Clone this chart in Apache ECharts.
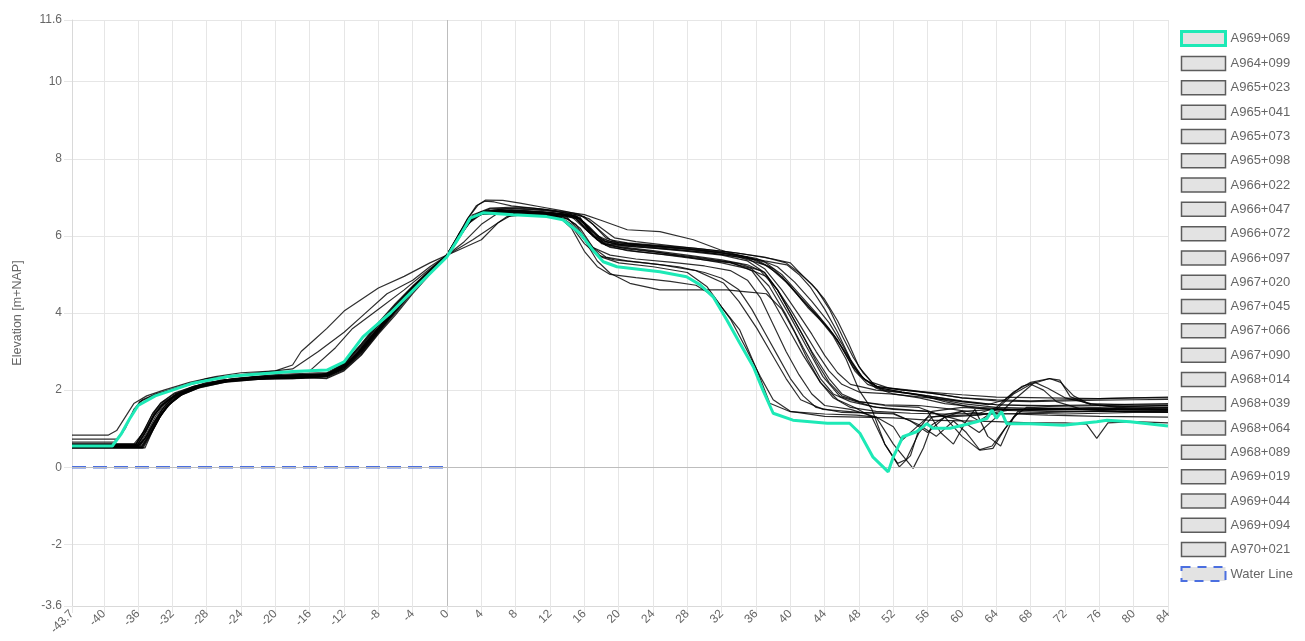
<!DOCTYPE html>
<html>
<head>
<meta charset="utf-8">
<title>Dike cross-section profiles</title>
<script src="https://cdn.jsdelivr.net/npm/echarts@6/dist/echarts.min.js"></script>
<style>
  html, body { margin: 0; padding: 0; background: #fff; }
  #chart { width: 1305px; height: 641px; }
</style>
</head>
<body>
<div id="chart"></div>
<script>
// Axis ranges and tick labels
const xMin = -43.7, xMax = 84;
const yMin = -3.6, yMax = 11.6;
const xTicks = [-43.7, -40, -36, -32, -28, -24, -20, -16, -12, -8, -4, 0, 4, 8, 12, 16, 20, 24, 28, 32, 36, 40, 44, 48, 52, 56, 60, 64, 68, 72, 76, 80, 84];
const yTicks = [-3.6, -2, 0, 2, 4, 6, 8, 10, 11.6];

// Highlighted profile
const A969_069 = [[-43.7,0.55],[-39,0.55],[-38,0.85],[-37,1.25],[-36,1.6],[-34,1.85],[-32,2.0],[-29.6,2.18],[-25.6,2.35],[-22,2.42],[-18,2.48],[-14,2.52],[-12,2.73],[-9.8,3.38],[-6.6,4.0],[-3.1,4.78],[0,5.46],[1.5,6.0],[2.7,6.46],[4.2,6.6],[7.7,6.55],[11.6,6.5],[13.5,6.42],[15.5,6.07],[17.1,5.6],[18.2,5.33],[19.8,5.2],[24.8,5.07],[27.9,4.94],[29.5,4.73],[31,4.42],[32.6,3.82],[34.1,3.22],[35.7,2.6],[36.8,2.0],[38,1.4],[40.3,1.22],[44.3,1.14],[46.9,1.14],[48.1,0.88],[49.6,0.27],[51.4,-0.12],[52,0.27],[53.1,0.79],[54.7,0.92],[55.9,1.13],[56.6,1.01],[58.6,1.01],[60.1,1.09],[61.7,1.18],[62.9,1.26],[63.5,1.48],[64,1.27],[64.6,1.44],[65.2,1.13],[67.9,1.13],[71.8,1.09],[75.7,1.18],[76.9,1.22],[79.6,1.18],[84,1.07]];

// Other profiles
const A964_099 = [[-43.7,0.55],[-36,0.55],[-35,0.8],[-34,1.2],[-33,1.55],[-32,1.8],[-30,2.05],[-28,2.2],[-24,2.3],[-20,2.35],[-16,2.36],[-14,2.4],[-12,2.6],[-10,3.05],[-8,3.6],[-6,4.1],[-4,4.6],[-2,5.05],[0,5.5],[1,5.85],[2,6.2],[3,6.5],[4,6.62],[6,6.68],[9,6.65],[12,6.6],[15,6.5],[16,6.3],[17,6.0],[18.5,5.85],[20,5.78],[24,5.7],[28,5.62],[32,5.52],[36,5.38],[38,5.15],[40,4.7],[42,4.15],[44,3.7],[45.5,3.3],[46.5,2.9],[47.5,2.5],[49,2.15],[51,2.0],[54,1.9],[57,1.78],[60,1.65],[64,1.55],[70,1.52],[76,1.55],[80,1.58],[84,1.6]];
const A965_023 = [[-43.7,0.5],[-35.5,0.5],[-34.5,0.9],[-33.5,1.3],[-32.5,1.6],[-31,1.9],[-29,2.1],[-26,2.25],[-22,2.3],[-18,2.3],[-14,2.35],[-12,2.55],[-10,2.95],[-8,3.5],[-6,4.05],[-4,4.6],[-2,5.08],[0,5.52],[1.5,6.05],[3,6.5],[4.5,6.65],[7,6.7],[10,6.68],[13,6.62],[15,6.55],[16.5,6.45],[18,6.2],[19.5,5.95],[22,5.85],[26,5.75],[30,5.65],[34,5.55],[38,5.4],[40,5.3],[41.5,4.95],[43.1,4.6],[44.6,4.08],[46.1,3.38],[47.3,2.86],[48.5,2.44],[50,2.09],[53.9,2.0],[57,1.9],[60,1.8],[64,1.75],[68,1.72],[72,1.75],[76,1.78],[80,1.8],[84,1.8]];
const A965_041 = [[-43.7,0.83],[-39.5,0.83],[-38.5,0.95],[-37.5,1.3],[-36.5,1.65],[-35,1.85],[-33,2.0],[-30,2.2],[-27,2.35],[-24,2.45],[-20,2.5],[-18,2.65],[-17,3.0],[-15.5,3.3],[-14,3.6],[-12,4.05],[-10,4.35],[-8,4.65],[-5,4.95],[-2,5.3],[0,5.5],[2,5.7],[4,5.9],[6,6.35],[8,6.6],[11,6.58],[13.5,6.5],[15,6.3],[16.5,5.8],[18,5.45],[20,5.3],[24,5.2],[28,5.05],[30.3,4.68],[32,4.15],[34.1,3.56],[36.1,2.52],[37.6,1.66],[40,1.44],[44,1.38],[47.7,1.35],[50,1.3],[52,1.05],[53,0.7],[54.5,1.0],[56,1.3],[60,1.35],[64,1.38],[68,1.4],[72,1.38],[76,1.4],[80,1.42],[84,1.42]];
const A965_073 = [[-43.7,0.6],[-36.5,0.6],[-35,1.0],[-34,1.45],[-33,1.7],[-31,1.95],[-28,2.15],[-25,2.3],[-20,2.4],[-15,2.45],[-14,2.45],[-12,2.7],[-10,3.2],[-8,3.75],[-6,4.25],[-4,4.7],[-2,5.12],[0,5.48],[1,5.8],[2.5,6.35],[4,6.58],[7,6.6],[10,6.58],[13,6.55],[15,6.45],[16.5,6.1],[18,5.8],[20,5.7],[24,5.6],[28,5.45],[32,5.3],[35,5.15],[37.3,4.94],[40,3.9],[41.9,3.12],[43.8,2.35],[45.8,1.83],[49.6,1.57],[52,1.5],[56,1.45],[60,1.2],[62,0.9],[64,1.3],[65.6,1.66],[68.3,2.17],[70.2,2.3],[71.4,2.26],[72.6,1.83],[74.5,1.66],[78,1.55],[84,1.5]];
const A965_098 = [[-43.7,0.55],[-35.8,0.55],[-34.8,0.85],[-33.8,1.25],[-32.8,1.55],[-31.5,1.85],[-29.5,2.05],[-27,2.2],[-23,2.3],[-19,2.35],[-15,2.38],[-13,2.5],[-11,2.8],[-9,3.3],[-7,3.85],[-5,4.35],[-3,4.85],[-1,5.3],[0,5.52],[1.2,5.95],[2.4,6.35],[3.6,6.58],[5.5,6.66],[9,6.62],[12,6.58],[14.5,6.5],[16,6.2],[17.5,5.9],[19,5.78],[22,5.72],[26,5.65],[30,5.58],[34,5.45],[37,5.25],[39,4.95],[41,4.45],[43,3.95],[45,3.4],[46.5,2.8],[48,2.0],[49.5,1.5],[51,0.6],[52.7,0.01],[54,0.3],[55,1.0],[56.5,1.45],[60,1.55],[64,1.5],[70,1.48],[76,1.52],[84,1.55]];
const A966_022 = [[-43.7,0.73],[-38.5,0.73],[-37.5,1.0],[-36.5,1.5],[-35.5,1.75],[-34,1.9],[-31,2.1],[-28,2.3],[-24,2.4],[-20,2.5],[-18,2.55],[-15,3.0],[-12,3.5],[-10,3.9],[-7,4.5],[-4,4.85],[-2,5.2],[0,5.5],[3,5.9],[5,6.2],[7,6.5],[9,6.55],[12,6.5],[14,6.45],[15.5,6.2],[17,5.7],[18.5,5.45],[21,5.35],[25,5.25],[29,5.1],[32.2,4.78],[34,4.3],[36.1,3.6],[37.8,2.95],[39.5,2.3],[41.2,1.75],[43.8,1.5],[48,1.42],[52,1.4],[55,1.1],[57,0.8],[59,1.2],[60.5,0.9],[62.1,0.44],[63.6,0.49],[65,1.0],[66.5,1.4],[70,1.42],[76,1.45],[84,1.45]];
const A966_047 = [[-43.7,0.5],[-35.2,0.5],[-34.3,0.95],[-33.2,1.4],[-32,1.7],[-30.5,1.95],[-28,2.15],[-24,2.28],[-20,2.32],[-16,2.35],[-13.5,2.45],[-11.5,2.7],[-9.5,3.15],[-7.5,3.7],[-5.5,4.2],[-3.5,4.7],[-1.5,5.15],[0,5.5],[1.5,6.0],[3,6.45],[4.5,6.6],[7,6.62],[10,6.6],[13,6.52],[14.5,6.3],[16,5.9],[17.5,5.35],[19,5.03],[21.3,4.77],[24.8,4.6],[28.7,4.6],[32.6,4.6],[34.9,4.55],[37.2,4.5],[39,4.1],[40.5,3.5],[42,2.8],[43.5,2.2],[45,1.8],[47,1.55],[50,1.45],[54,1.4],[58,1.38],[62,1.4],[66,1.38],[70,1.35],[76,1.32],[84,1.3]];
const A966_072 = [[-43.7,0.6],[-36.2,0.6],[-35.2,0.95],[-34.2,1.35],[-33.2,1.62],[-31.5,1.9],[-29,2.1],[-26,2.25],[-22,2.35],[-17,2.4],[-14,2.42],[-12,2.65],[-10,3.12],[-8,3.68],[-6,4.18],[-4,4.65],[-2,5.08],[0,5.5],[1.2,5.9],[2.5,6.35],[4,6.6],[7,6.65],[10,6.62],[13,6.58],[15.5,6.45],[17,6.1],[18.5,5.85],[20,5.75],[24,5.68],[28,5.6],[32,5.5],[35,5.35],[37,5.05],[38.5,4.6],[40,4.1],[41.5,3.55],[43,3.0],[44.5,2.5],[46,2.15],[48,1.95],[51.6,1.9],[53.9,1.85],[57,1.78],[60,1.7],[63,1.62],[65,1.75],[67,2.1],[68.5,2.2],[70,2.05],[72,1.8],[75,1.65],[80,1.62],[84,1.6]];
const A966_097 = [[-43.7,0.55],[-36,0.55],[-35.2,0.75],[-34.2,1.15],[-33.2,1.5],[-32,1.78],[-30,2.0],[-27,2.2],[-23,2.3],[-18,2.35],[-14,2.3],[-12,2.5],[-10,2.9],[-8,3.45],[-6,3.95],[-4,4.5],[-2,5.0],[0,5.5],[1.5,6.1],[3,6.55],[5,6.72],[8,6.75],[11,6.7],[14,6.62],[16,6.55],[18,6.4],[21,6.16],[24.8,6.11],[28.7,5.9],[31.8,5.64],[34.5,5.46],[37,5.35],[39.6,5.25],[41,5.0],[42.3,4.68],[44,4.1],[45.5,3.5],[47,2.8],[48.5,2.3],[50,2.1],[53,2.0],[56,1.95],[60,1.88],[64,1.82],[70,1.8],[76,1.78],[80,1.8],[84,1.82]];
const A967_020 = [[-43.7,0.65],[-38.8,0.65],[-37.8,0.9],[-36.8,1.35],[-35.8,1.7],[-34,1.88],[-31,2.08],[-28,2.25],[-24,2.38],[-20,2.45],[-17,2.48],[-16,2.5],[-13,3.1],[-11,3.6],[-8,4.1],[-5,4.6],[-2,5.15],[0,5.5],[2,5.85],[4,6.3],[6,6.6],[9,6.6],[12,6.55],[14,6.48],[15.5,6.1],[17,5.7],[19,5.5],[22,5.4],[26,5.32],[30,5.22],[33,5.1],[35,4.85],[36.5,4.4],[38,3.7],[39.5,3.0],[41,2.4],[42.5,1.9],[44,1.6],[47,1.5],[50,1.3],[52,0.6],[54.3,-0.03],[55.5,0.5],[56.5,1.1],[58,1.3],[62,1.35],[66,1.5],[70,1.52],[76,1.5],[84,1.48]];
const A967_045 = [[-43.7,0.52],[-35.6,0.52],[-34.6,0.88],[-33.6,1.3],[-32.6,1.6],[-31,1.88],[-29,2.08],[-26,2.22],[-22,2.3],[-18,2.33],[-14.5,2.35],[-12.5,2.55],[-10.5,2.95],[-8.5,3.5],[-6.5,4.0],[-4.5,4.5],[-2.5,4.98],[0,5.52],[1,5.88],[2,6.22],[3.2,6.52],[4.5,6.62],[7,6.64],[10,6.62],[13,6.58],[15,6.5],[16.5,6.2],[18,5.88],[20,5.78],[24,5.72],[28,5.65],[32,5.55],[35,5.45],[37.5,5.2],[39.5,4.8],[41.5,4.3],[43.5,3.85],[45,3.45],[46.5,2.95],[48,2.4],[50,2.05],[52,1.9],[55,1.8],[58,1.65],[62,1.55],[66,1.5],[72,1.5],[78,1.52],[84,1.5]];
const A967_066 = [[-43.7,0.58],[-36.3,0.58],[-35.3,0.95],[-34.3,1.4],[-33.3,1.68],[-31.8,1.92],[-29.5,2.1],[-26.5,2.25],[-22,2.35],[-17,2.38],[-14,2.4],[-12,2.6],[-10,3.0],[-8,3.55],[-6,4.08],[-4,4.6],[-2,5.1],[0,5.5],[1.5,6.05],[3,6.48],[4.5,6.62],[7.5,6.66],[10.5,6.64],[13.5,6.58],[15.5,6.48],[17,6.0],[18.5,5.75],[21,5.62],[25,5.52],[29,5.4],[33,5.3],[35.5,5.15],[37.5,4.7],[39.5,3.95],[41.5,3.1],[43.5,2.3],[45,1.9],[47,1.7],[50,1.55],[53,1.5],[56,1.45],[57.5,0.9],[59,0.6],[60.5,1.2],[61.5,1.5],[63,0.8],[64.5,0.55],[66,1.3],[67.5,1.55],[72,1.52],[78,1.5],[84,1.48]];
const A967_090 = [[-43.7,0.55],[-35.8,0.55],[-34.8,0.9],[-33.8,1.3],[-32.8,1.62],[-31,1.9],[-29,2.08],[-26,2.22],[-22,2.3],[-18,2.32],[-14,2.35],[-12,2.55],[-10,2.98],[-8,3.52],[-6,4.05],[-4,4.58],[-2,5.05],[0,5.5],[1.2,5.95],[2.4,6.45],[3.6,6.8],[4.5,6.93],[6.5,6.92],[8.5,6.85],[11,6.75],[13.5,6.65],[15.5,6.55],[17,6.3],[18.5,5.95],[20,5.82],[24,5.75],[28,5.68],[32,5.58],[36,5.42],[38.5,5.2],[40.5,4.8],[42.5,4.3],[44.5,3.75],[46,3.2],[47.2,2.7],[48.5,2.3],[50.5,2.05],[53,1.95],[56,1.85],[60,1.7],[64,1.62],[70,1.6],[76,1.62],[84,1.65]];
const A968_014 = [[-43.7,0.55],[-36.4,0.55],[-35.4,0.92],[-34.4,1.35],[-33.4,1.65],[-31.8,1.9],[-29.5,2.1],[-26.5,2.25],[-22,2.35],[-17,2.4],[-14,2.42],[-12,2.68],[-10,3.18],[-8,3.72],[-6,4.22],[-4,4.68],[-2,5.1],[0,5.48],[1,5.82],[2.5,6.32],[4,6.56],[7,6.58],[10,6.56],[13,6.5],[14.5,6.25],[16,5.8],[17.5,5.5],[19.5,5.38],[23,5.3],[27,5.2],[30,5.05],[32,4.9],[34,4.6],[35.5,4.1],[37,3.5],[38.5,2.9],[40,2.3],[41.5,1.85],[43,1.55],[46,1.42],[50,1.4],[52,1.38],[54,1.2],[56,0.9],[58,1.3],[60,1.45],[62,1.2],[64,1.5],[66,1.9],[68,2.15],[69.5,2.0],[71,1.7],[74,1.5],[78,1.45],[84,1.42]];
const A968_039 = [[-43.7,0.5],[-35.4,0.5],[-34.4,0.9],[-33.4,1.32],[-32.4,1.62],[-30.8,1.9],[-28.5,2.1],[-25,2.25],[-21,2.3],[-17,2.32],[-14,2.36],[-12,2.58],[-10,3.02],[-8,3.58],[-6,4.1],[-4,4.62],[-2,5.06],[0,5.5],[1,5.86],[2,6.22],[3,6.5],[4,6.62],[6,6.66],[9,6.64],[12,6.6],[15,6.52],[16.5,6.25],[18,5.92],[20,5.8],[24,5.74],[28,5.66],[32,5.56],[35,5.42],[37,5.15],[39,4.6],[41,3.95],[42.5,3.45],[44,2.9],[45.5,2.45],[47,2.15],[50,2.0],[52.5,1.95],[55,1.88],[58,1.7],[61,1.55],[64,1.48],[70,1.45],[76,1.45],[84,1.46]];
const A968_064 = [[-43.7,0.6],[-36,0.6],[-35,0.95],[-34,1.38],[-33,1.65],[-31.5,1.9],[-29,2.1],[-26,2.25],[-22,2.33],[-18,2.36],[-14,2.38],[-12,2.6],[-10,3.05],[-8,3.6],[-6,4.12],[-4,4.62],[-2,5.08],[0,5.52],[1.2,5.98],[2.4,6.45],[3.4,6.78],[4.4,6.9],[5.5,6.88],[7.5,6.78],[10,6.72],[12.5,6.65],[14.5,6.55],[16,6.25],[17.5,5.9],[19,5.7],[22,5.6],[26,5.5],[30,5.4],[34,5.28],[36.5,5.1],[38.5,4.6],[40.5,3.8],[42.5,3.0],[44.5,2.3],[46,1.9],[48,1.7],[51,1.6],[55,1.55],[58,1.3],[60,0.8],[62,0.45],[63.5,0.55],[65,1.0],[66.5,1.45],[70,1.5],[76,1.5],[84,1.52]];
const A968_089 = [[-43.7,0.52],[-35.7,0.52],[-34.7,0.85],[-33.7,1.25],[-32.7,1.58],[-31.2,1.85],[-29,2.05],[-26,2.2],[-22,2.28],[-18,2.3],[-14,2.32],[-12,2.52],[-10,2.92],[-8,3.48],[-6,4.0],[-4,4.55],[-2,5.02],[0,5.5],[1.5,6.08],[3,6.52],[5,6.7],[8,6.72],[11,6.68],[14,6.6],[16,6.5],[17.5,6.2],[19,5.9],[21,5.82],[25,5.75],[29,5.68],[33,5.58],[37,5.45],[39.5,5.3],[41,5.05],[42.5,4.75],[44,4.35],[45.5,3.8],[46.8,3.2],[48,2.6],[49.5,2.2],[51.5,2.05],[54,1.98],[57,1.9],[60,1.8],[64,1.72],[68,1.7],[72,1.72],[76,1.74],[80,1.75],[84,1.76]];
const A969_019 = [[-43.7,0.55],[-36.2,0.55],[-35.2,0.9],[-34.2,1.32],[-33.2,1.6],[-31.6,1.88],[-29.2,2.08],[-26,2.23],[-22,2.32],[-18,2.35],[-14,2.38],[-12,2.56],[-10,2.98],[-8,3.52],[-6,4.05],[-4,4.58],[-2,5.06],[0,5.5],[1.5,6.02],[3,6.46],[4.5,6.6],[7,6.62],[10,6.58],[13,6.5],[14.5,6.2],[16,5.6],[17.5,5.2],[19,5.0],[22,4.92],[26,4.82],[29,4.72],[31,4.45],[33,3.85],[34.8,3.1],[36.5,2.35],[38,1.75],[40,1.45],[44,1.32],[48,1.3],[52,1.28],[56,1.22],[60,1.2],[64,1.18],[68,1.15],[72,1.15],[74.5,1.12],[75.7,0.75],[77,1.15],[80,1.18],[84,1.15]];
const A969_044 = [[-43.7,0.58],[-35.9,0.58],[-34.9,0.92],[-33.9,1.34],[-32.9,1.64],[-31.3,1.9],[-29,2.1],[-25.5,2.25],[-21,2.35],[-17,2.4],[-14,2.42],[-12,2.68],[-10,3.15],[-8,3.7],[-6,4.2],[-4,4.68],[-2,5.1],[0,5.5],[1.2,5.88],[2.6,6.38],[4,6.6],[7,6.63],[10,6.6],[13,6.55],[15,6.46],[16.5,6.1],[18,5.82],[20,5.72],[24,5.62],[28,5.5],[32,5.38],[35,5.25],[37,5.05],[38.5,4.6],[40,4.0],[41.5,3.4],[43,2.75],[44.5,2.2],[46,1.85],[48,1.7],[51,1.62],[55,1.6],[59,1.5],[62,1.4],[64,1.55],[66,1.95],[68,2.2],[70.2,2.3],[71.5,2.2],[73,1.85],[75,1.62],[78,1.58],[84,1.55]];
const A969_094 = [[-43.7,0.53],[-35.5,0.53],[-34.5,0.88],[-33.5,1.28],[-32.5,1.6],[-31,1.87],[-28.8,2.07],[-25.5,2.22],[-21,2.3],[-17,2.32],[-14,2.37],[-12,2.6],[-10,3.08],[-8,3.62],[-6,4.12],[-4,4.62],[-2,5.07],[0,5.5],[1,5.86],[2,6.2],[3,6.48],[4,6.6],[6,6.66],[9,6.64],[12,6.6],[15,6.52],[16,6.35],[17.5,6.0],[19,5.86],[22,5.78],[26,5.7],[30,5.62],[34,5.5],[37,5.32],[39,5.0],[41,4.5],[43,4.0],[44.5,3.6],[46,3.1],[47.3,2.6],[48.8,2.25],[50.5,2.05],[53,1.95],[56,1.85],[60,1.72],[64,1.62],[70,1.58],[76,1.6],[84,1.62]];
const A970_021 = [[-43.7,0.56],[-36.1,0.56],[-35.1,0.93],[-34.1,1.36],[-33.1,1.64],[-31.6,1.9],[-29.2,2.1],[-26,2.25],[-22,2.33],[-18,2.36],[-14,2.4],[-12,2.62],[-10,3.08],[-8,3.62],[-6,4.14],[-4,4.64],[-2,5.1],[0,5.5],[1.5,6.05],[3,6.5],[4.5,6.63],[7.5,6.66],[10.5,6.62],[13.5,6.56],[15.5,6.45],[17,6.05],[18.5,5.78],[21,5.66],[25,5.56],[29,5.45],[33,5.32],[35.5,5.1],[37.5,4.5],[39.5,3.7],[41.5,2.9],[43.5,2.2],[45.5,1.75],[47.5,1.55],[49.5,1.3],[51,0.6],[52.5,0.1],[53.5,0.2],[55,0.9],[56.5,1.3],[60,1.45],[64,1.5],[70,1.5],[76,1.48],[84,1.5]];

// Reference water level
const waterLine = [[-43.7, 0], [0, 0]];

const profileNames = ['A964+099','A965+023','A965+041','A965+073','A965+098','A966+022','A966+047','A966+072','A966+097','A967+020','A967+045','A967+066','A967+090','A968+014','A968+039','A968+064','A968+089','A969+019','A969+044','A969+094','A970+021'];
const profileData = [A964_099, A965_023, A965_041, A965_073, A965_098, A966_022, A966_047, A966_072, A966_097, A967_020, A967_045, A967_066, A967_090, A968_014, A968_039, A968_064, A968_089, A969_019, A969_044, A969_094, A970_021];

const FONT = '"Liberation Sans", Arial, Helvetica, sans-serif';
const TEXT = '#666';
const GRID = '#e6e6e6';
const HIGHLIGHT = '#1de9b6';
const WATER = '#4b6fe0';

const series = [];
series.push({
  name: 'A969+069', type: 'line', data: A969_069,
  showSymbol: false, z: 5,
  lineStyle: { color: HIGHLIGHT, width: 3 },
  itemStyle: { color: HIGHLIGHT }
});
profileNames.forEach((name, i) => {
  series.push({
    name: name, type: 'line', data: profileData[i],
    showSymbol: false, z: 3,
    lineStyle: { color: 'rgba(0,0,0,0.82)', width: 1.2 },
    itemStyle: { color: '#222' }
  });
});
series.push({
  name: 'Water Line', type: 'line', data: waterLine,
  showSymbol: false, z: 4,
  lineStyle: { color: WATER, width: 2.4, type: [14, 7] },
  itemStyle: { color: WATER },
  markLine: {
    silent: true, symbol: 'none', animation: false,
    label: { show: false },
    lineStyle: { color: '#bdbdbd', width: 1, type: 'solid' },
    data: [{ xAxis: 0 }, { yAxis: 0 }]
  }
});

const legendData = [{
  name: 'A969+069', icon: 'rect',
  itemStyle: { color: '#e3e3e3', borderColor: HIGHLIGHT, borderWidth: 3 }
}];
profileNames.forEach(name => legendData.push({
  name: name, icon: 'rect',
  itemStyle: { color: '#e3e3e3', borderColor: '#5c5c5c', borderWidth: 1.5 }
}));
legendData.push({
  name: 'Water Line', icon: 'rect',
  itemStyle: { color: '#e3e3e3', borderColor: WATER, borderWidth: 2, borderType: [9, 7] }
});

const chart = echarts.init(document.getElementById('chart'), null, { renderer: 'canvas' });
chart.setOption({
  animation: false,
  backgroundColor: '#fff',
  textStyle: { fontFamily: FONT },
  grid: { left: 72, right: 137, top: 20, bottom: 35, containLabel: false, outerBoundsMode: 'none' },
  legend: {
    orient: 'vertical', left: 1175, top: 25, padding: [5, 5, 5, 5],
    itemWidth: 44, itemHeight: 14, itemGap: 8.8,
    textStyle: { color: TEXT, fontSize: 13, fontFamily: FONT },
    data: legendData
  },
  xAxis: {
    type: 'value', min: xMin, max: xMax,
    axisLine: { show: true, onZero: false, lineStyle: { color: '#d9d9d9', width: 1 } },
    axisTick: { show: true, length: 7, lineStyle: { color: GRID }, customValues: xTicks },
    splitLine: { show: true, lineStyle: { color: GRID, width: 1 } },
    axisLabel: { customValues: xTicks, rotate: 45, color: TEXT, fontSize: 12, margin: 6, fontFamily: FONT }
  },
  yAxis: {
    type: 'value', min: yMin, max: yMax,
    name: 'Elevation [m+NAP]', nameLocation: 'middle', nameGap: 48,
    nameTextStyle: { color: TEXT, fontSize: 12.5, fontFamily: FONT },
    axisLine: { show: true, onZero: false, lineStyle: { color: '#d9d9d9', width: 1 } },
    axisTick: { show: true, length: 8, lineStyle: { color: GRID }, customValues: yTicks },
    splitLine: { show: true, lineStyle: { color: GRID, width: 1 } },
    axisLabel: { customValues: yTicks, color: TEXT, fontSize: 12, margin: 10, fontFamily: FONT }
  },
  series: series
});
</script>
</body>
</html>
